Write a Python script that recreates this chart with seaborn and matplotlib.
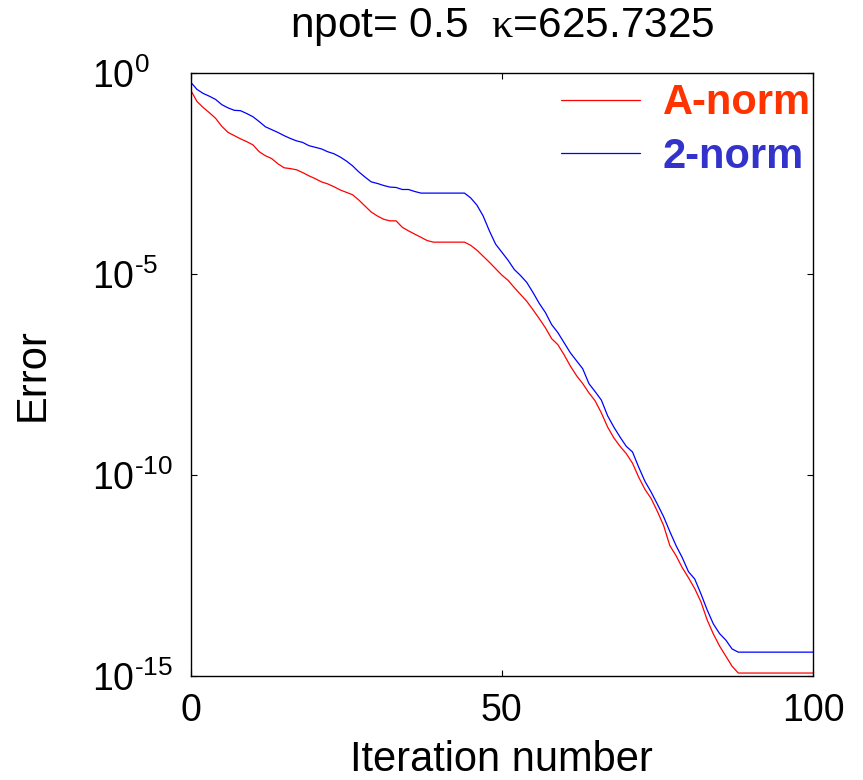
import numpy as np
import pandas as pd
import matplotlib
matplotlib.use('Agg')
import matplotlib.pyplot as plt
import seaborn as sns
from matplotlib.lines import Line2D

# error curves, log10 of the error at each iteration
iterations = list(range(101))
log_err_anorm = [
    -0.42, -0.70, -0.85, -0.98, -1.12, -1.32, -1.47, -1.55, -1.63, -1.70,
    -1.78, -1.95, -2.05, -2.12, -2.25, -2.35, -2.37, -2.40, -2.47, -2.55,
    -2.62, -2.70, -2.75, -2.82, -2.90, -2.96, -3.02, -3.15, -3.30, -3.45,
    -3.55, -3.63, -3.67, -3.67, -3.83, -3.92, -4.00, -4.08, -4.16, -4.20,
    -4.20, -4.20, -4.20, -4.20, -4.20, -4.28, -4.40, -4.55, -4.70, -4.86,
    -5.02, -5.15, -5.33, -5.50, -5.67, -5.88, -6.10, -6.33, -6.60, -6.75,
    -7.00, -7.28, -7.52, -7.72, -7.95, -8.15, -8.45, -8.80, -9.07, -9.28,
    -9.46, -9.70, -10.05, -10.35, -10.58, -10.90, -11.25, -11.75, -12.00, -12.30,
    -12.55, -12.82, -13.15, -13.60, -13.95, -14.25, -14.50, -14.75, -14.92, -14.92,
    -14.92, -14.92, -14.92, -14.92, -14.92, -14.92, -14.92, -14.92, -14.92, -14.92,
    -14.92,
]
log_err_2norm = [
    -0.22, -0.40, -0.50, -0.57, -0.65, -0.78, -0.86, -0.92, -0.93, -1.00,
    -1.08, -1.20, -1.33, -1.40, -1.47, -1.55, -1.62, -1.68, -1.72, -1.80,
    -1.84, -1.88, -1.95, -2.00, -2.08, -2.18, -2.30, -2.45, -2.58, -2.70,
    -2.74, -2.79, -2.83, -2.84, -2.89, -2.89, -2.94, -2.98, -2.98, -2.98,
    -2.98, -2.98, -2.98, -2.98, -2.98, -3.10, -3.28, -3.55, -3.92, -4.25,
    -4.45, -4.65, -4.88, -5.03, -5.20, -5.45, -5.72, -5.95, -6.25, -6.45,
    -6.70, -6.95, -7.15, -7.35, -7.72, -7.92, -8.13, -8.52, -8.80, -9.05,
    -9.28, -9.42, -9.80, -10.15, -10.42, -10.72, -11.03, -11.40, -11.75, -12.05,
    -12.40, -12.58, -12.95, -13.35, -13.70, -13.94, -14.10, -14.32, -14.40, -14.40,
    -14.40, -14.40, -14.40, -14.40, -14.40, -14.40, -14.40, -14.40, -14.40, -14.40,
    -14.40,
]
norm_names = ['A-norm', '2-norm']
line_colors = ['#ff0000', '#0000ff']
text_colors = ['#ff3300', '#3333cc']
xticks = [0, 50, 100]
yticks = [1e0, 1e-5, 1e-10, 1e-15]
ytick_labels = [r'$\mathdefault{10^{\text{0}}}$', r'$\mathdefault{10^{\text{-5}}}$',
                r'$\mathdefault{10^{\text{-10}}}$', r'$\mathdefault{10^{\text{-15}}}$']

df = pd.DataFrame({
    'iteration': iterations * 2,
    'error': 10.0 ** np.array(log_err_anorm + log_err_2norm),
    'norm': [norm_names[0]] * len(iterations) + [norm_names[1]] * len(iterations),
})

sns.set_style('ticks')
plt.rcParams['font.family'] = ['Liberation Sans', 'DejaVu Sans']
plt.rcParams['mathtext.fontset'] = 'custom'
plt.rcParams['mathtext.rm'] = 'Liberation Sans'
plt.rcParams['mathtext.it'] = 'Liberation Serif'
plt.rcParams['text.color'] = 'black'
plt.rcParams['axes.labelcolor'] = 'black'

fig = plt.figure(figsize=(8.63, 7.8), dpi=100)
ax = fig.add_axes([0.221, 0.133, 0.721, 0.773])

sns.lineplot(data=df, x='iteration', y='error', hue='norm',
             palette=dict(zip(norm_names, line_colors)), linewidth=0.9,
             legend=False, ax=ax)
ax.set_yscale('log')
ax.set_xlim(0, 100)
ax.set_ylim(1e-15, 1e0)
ax.set_xticks(xticks)
ax.set_yticks(yticks)
ax.set_yticklabels(ytick_labels)
ax.minorticks_off()
ax.tick_params(direction='in', top=True, right=True, length=4, width=0.8,
               labelsize=27, colors='black')
ax.tick_params(axis='x', pad=12)
ax.tick_params(axis='y', pad=71)
for lbl in ax.get_yticklabels():
    lbl.set_horizontalalignment('left')
for s in ax.spines.values():
    s.set_visible(True)
    s.set_color('black')
    s.set_linewidth(1.0)

ax.set_xlabel('Iteration number', fontsize=30)
ax.set_ylabel('Error', fontsize=30)
ax.xaxis.set_label_coords(0.5, -0.106)
ax.yaxis.set_label_coords(-0.222, 0.5)
ax.set_title(r'npot= 0.5  $\kappa$=625.7325', fontsize=30.5, pad=26)

handles = [Line2D([], [], color=c, linewidth=0.9) for c in line_colors]
leg = ax.legend(handles, norm_names, loc='upper right', bbox_to_anchor=(1.0, 0.987),
                frameon=False, borderaxespad=0.0, borderpad=0.05,
                handlelength=1.9, handletextpad=0.55, labelspacing=0.32,
                prop={'size': 30, 'weight': 'bold'})
for t, c in zip(leg.get_texts(), text_colors):
    t.set_color(c)

fig.savefig('out.png', dpi=100, facecolor='white')
